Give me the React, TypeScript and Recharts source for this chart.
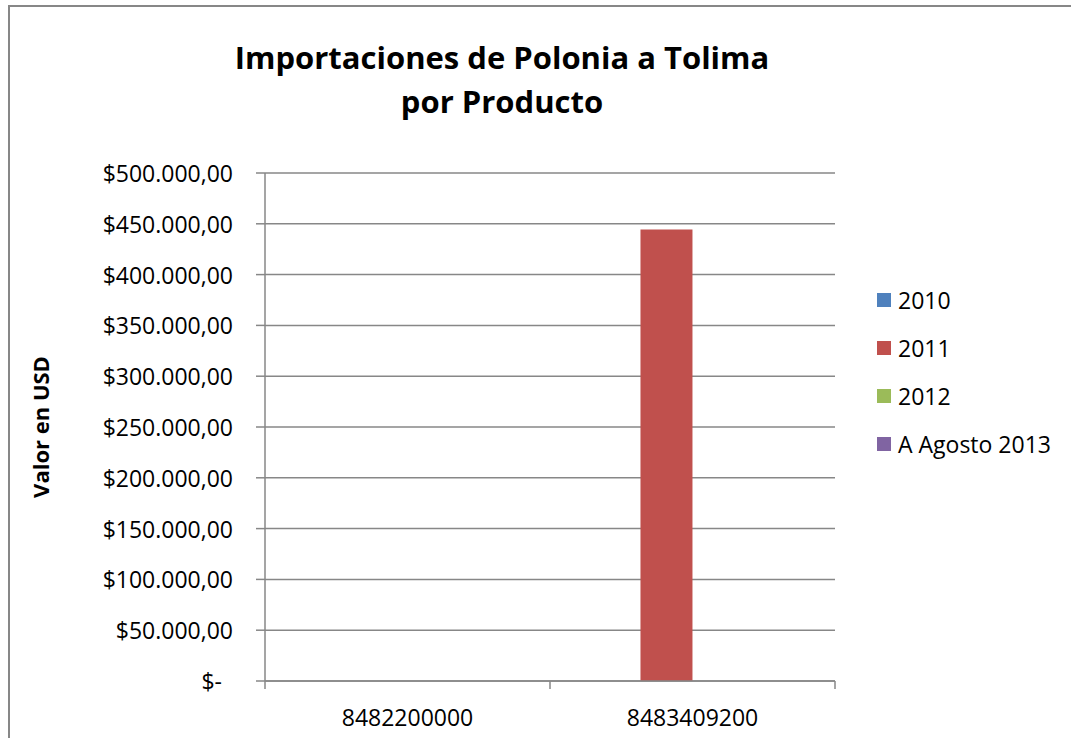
import { Bar, BarChart, CartesianGrid, Legend, XAxis, YAxis } from "recharts";

const categories = ["8482200000", "8483409200"];
const values2010 = [0, 0];
const values2011 = [0, 444500];
const values2012 = [0, 0];
const valuesAgo2013 = [0, 0];
const yTicks = [0, 50000, 100000, 150000, 200000, 250000, 300000, 350000, 400000, 450000, 500000];

const data = categories.map((code, i) => ({
  code,
  y2010: values2010[i],
  y2011: values2011[i],
  y2012: values2012[i],
  y2013: valuesAgo2013[i],
}));

const W = 1071;
const H = 738;
// bottom margin + 30px x-axis height puts the axis line at y=681
const margin = { top: 173, right: 236, bottom: 27, left: 0 };
const yAxisWidth = 265;
const gray = "#878787";
const font = "'Open Sans', sans-serif";
const bandSize = (W - margin.left - margin.right - yAxisWidth) / categories.length;

function money(v: number) {
  if (v === 0) return "$-";
  const s = String(Math.round(v)).replace(/\B(?=(\d{3})+(?!\d))/g, ".");
  return "$" + s + ",00";
}

function YTick(props: any) {
  const { x, y, payload } = props;
  const v = payload.value as number;
  return (
    <text x={v === 0 ? x - 11 : x} y={y} textAnchor="end" dominantBaseline="central" fontSize={23} fill="#000">
      {money(v)}
    </text>
  );
}

function XTick(props: any) {
  const { x, y, payload, index } = props;
  const half = bandSize / 2;
  return (
    <g>
      <line x1={x - half} x2={x - half} y1={y} y2={y + 8} stroke={gray} strokeWidth={1.5} />
      {index === categories.length - 1 && (
        <line x1={x + half} x2={x + half} y1={y} y2={y + 8} stroke={gray} strokeWidth={1.5} />
      )}
      <text x={x} y={y + 36} textAnchor="middle" dominantBaseline="central" fontSize={23} fill="#000">
        {payload.value}
      </text>
    </g>
  );
}

function YLabel(props: any) {
  const vb = props.viewBox;
  const cx = 40;
  const cy = vb.y + vb.height / 2;
  return (
    <text
      x={cx}
      y={cy}
      transform={`rotate(-90 ${cx} ${cy})`}
      textAnchor="middle"
      dominantBaseline="central"
      fontSize={22}
      fontWeight="bold"
      fill="#000"
    >
      Valor en USD
    </text>
  );
}

function LegendBox(props: any) {
  const items = props.payload || [];
  return (
    <div style={{ fontFamily: font }}>
      {items.map((it: any) => (
        <div key={it.value} style={{ display: "flex", alignItems: "center", height: 48 }}>
          <span style={{ width: 14, height: 14, background: it.color, display: "inline-block", marginRight: 7 }} />
          <span style={{ fontSize: 23, color: "#000" }}>{it.value}</span>
        </div>
      ))}
    </div>
  );
}

export default function App() {
  return (
    <div style={{ position: "absolute", left: 0, top: 0, width: W, height: H, background: "#fff", fontFamily: font }}>
      <div
        style={{
          position: "absolute",
          left: 8,
          top: 5,
          width: W,
          height: H,
          borderLeft: `2px solid ${gray}`,
          borderTop: `2px solid ${gray}`,
        }}
      />
      <div
        style={{
          position: "absolute",
          left: 0,
          width: 1004,
          top: 35,
          textAlign: "center",
          fontWeight: "bold",
          fontSize: 31,
          lineHeight: "44px",
          color: "#000",
        }}
      >
        Importaciones de Polonia a Tolima
        <br />
        por Producto
      </div>
      <div style={{ position: "absolute", left: 0, top: 0 }}>
        <BarChart width={W} height={H} data={data} margin={margin} barCategoryGap="13.5%" barGap={0}>
          <CartesianGrid vertical={false} stroke={gray} strokeWidth={1.5} />
          <XAxis
            dataKey="code"
            axisLine={{ stroke: gray, strokeWidth: 1.5 }}
            tickLine={false}
            tickSize={0}
            tickMargin={0}
            tick={<XTick />}
            interval={0}
          />
          <YAxis
            width={yAxisWidth}
            domain={[0, 500000]}
            ticks={yTicks}
            interval={0}
            axisLine={{ stroke: gray, strokeWidth: 1.5 }}
            tickLine={{ stroke: gray, strokeWidth: 1.5 }}
            tickSize={9}
            tickMargin={23}
            tick={<YTick />}
            label={{ content: <YLabel /> }}
          />
          <Legend
            layout="vertical"
            align="center"
            verticalAlign="middle"
            content={<LegendBox />}
            wrapperStyle={{ left: 877, top: 276, right: "auto", width: 190 }}
          />
          <Bar dataKey="y2010" name="2010" fill="#4F81BD" isAnimationActive={false} />
          <Bar dataKey="y2011" name="2011" fill="#C0504D" isAnimationActive={false} />
          <Bar dataKey="y2012" name="2012" fill="#9BBB59" isAnimationActive={false} />
          <Bar dataKey="y2013" name="A Agosto 2013" fill="#8064A2" isAnimationActive={false} />
        </BarChart>
      </div>
    </div>
  );
}
